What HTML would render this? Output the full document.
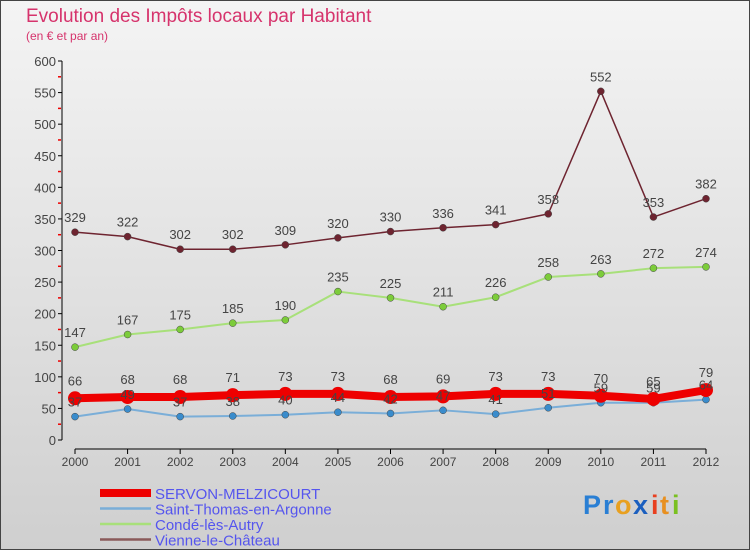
<!DOCTYPE html>
<html><head><meta charset="utf-8"><style>
body{margin:0;width:750px;height:550px;overflow:hidden}
svg{display:block;font-family:"Liberation Sans",sans-serif}
</style></head><body>
<svg id="c" width="750" height="550" viewBox="0 0 750 550">
<defs><linearGradient id="bg" x1="0" y1="0" x2="0" y2="1"><stop offset="0" stop-color="#f4f4f4"/><stop offset="1" stop-color="#cfcfcf"/></linearGradient></defs>
<rect x="0.5" y="0.5" width="749" height="549" fill="url(#bg)" stroke="#444"/>
<text x="26" y="22" font-size="19" fill="#d6336c">Evolution des Impôts locaux par Habitant</text>
<text x="26" y="40" font-size="12" fill="#d6336c">(en € et par an)</text>
<g id="axes"></g><g id="series"></g><g id="labels"></g><g id="legend"></g>
<g font-size="27" font-weight="bold">
<text x="583" y="514" fill="#2a7fd4">P</text><text x="603" y="514" fill="#2a7fd4">r</text><text x="615" y="514" fill="#e8a020">o</text><text x="633" y="514" fill="#1b5fbf">x</text><text x="651" y="514" fill="#e84020">i</text><text x="660" y="514" fill="#e89020">t</text><text x="672" y="514" fill="#7ac020">i</text>
</g>
</svg>
<script>
const years=[2000,2001,2002,2003,2004,2005,2006,2007,2008,2009,2010,2011,2012];
const yTicks=[0,50,100,150,200,250,300,350,400,450,500,550,600];
const servon=[66,68,68,71,73,73,68,69,73,73,70,65,79];
const stThomas=[37,49,37,38,40,44,42,47,41,51,59,59,64];
const conde=[147,167,175,185,190,235,225,211,226,258,263,272,274];
const vienne=[329,322,302,302,309,320,330,336,341,358,552,353,382];
const names=["SERVON-MELZICOURT","Saint-Thomas-en-Argonne","Condé-lès-Autry","Vienne-le-Château"];
const NS="http://www.w3.org/2000/svg";
const X=i=>75+i*(706-75)/(years.length-1);
const Y=v=>440-v*(440-61)/600;
function mk(p,t,a,txt){const e=document.createElementNS(NS,t);for(const k in a)e.setAttribute(k,a[k]);if(txt!==undefined)e.textContent=txt;p.appendChild(e);return e;}
const ax=document.getElementById('axes');
let l=mk(ax,'line',{x1:62,y1:61,x2:62,y2:440,stroke:'#000'});

yTicks.forEach(v=>{mk(ax,'line',{x1:58,x2:62,y1:Y(v),y2:Y(v),stroke:'#000'});
 if(v<600)mk(ax,'line',{x1:58,x2:61,y1:Y(v+25),y2:Y(v+25),stroke:'#e00','stroke-width':1.5});
 const t=mk(ax,'text',{x:56,y:Y(v)+5,'font-size':13,fill:'#444','text-anchor':'end'},v);
 });
l=mk(ax,'line',{x1:75,y1:449,x2:706,y2:449,stroke:'#000'});

years.forEach((y,i)=>{mk(ax,'line',{x1:X(i),x2:X(i),y1:449,y2:454,stroke:'#000'});
 const t=mk(ax,'text',{x:X(i),y:466,'font-size':12,fill:'#444','text-anchor':'middle'},y);
 });
const sg=document.getElementById('series');
const lb=document.getElementById('labels');
const defs=[[vienne,'#6e2430','#6e2430',1.5,3.5],[conde,'#a8e07a','#7ccc3a',2,3.5],[stThomas,'#7aaed8','#3a8ccc',2,3.5],[servon,'#ee0000','#ee0000',8,7]];
const order=['vienne','conde','st-thomas','servon'];
defs.forEach((d,k)=>{const [vals,lc,pc,w,r]=d;
 const g=mk(sg,'g',{});
 mk(g,'polyline',{points:vals.map((v,i)=>X(i)+','+Y(v)).join(' '),fill:'none',stroke:lc,'stroke-width':w,'stroke-linejoin':'round'});
 vals.forEach((v,i)=>{const c=mk(g,'circle',{cx:X(i),cy:Y(v),r:r,fill:pc,stroke:k==3?'none':'#444','stroke-width':0.5});
  
  const t=mk(lb,'text',{x:X(i),y:Y(v)-(k==3?13:10),'font-size':13,fill:'#444','text-anchor':'middle'},v);
  });});
const lg=document.getElementById('legend');
const lcol=['#ee0000','#7aaed8','#a8e07a','#8a5a5a'],lw=[8,2.5,2.5,2.5];
names.forEach((n,i)=>{const y=493+i*15.5;
 const g=mk(lg,'g',{});
 mk(g,'line',{x1:100,x2:151,y1:y,y2:y,stroke:lcol[i],'stroke-width':lw[i]});
 mk(g,'text',{x:155,y:y+6,'font-size':15,fill:'#5555ee'},n);});
</script>
</body></html>
